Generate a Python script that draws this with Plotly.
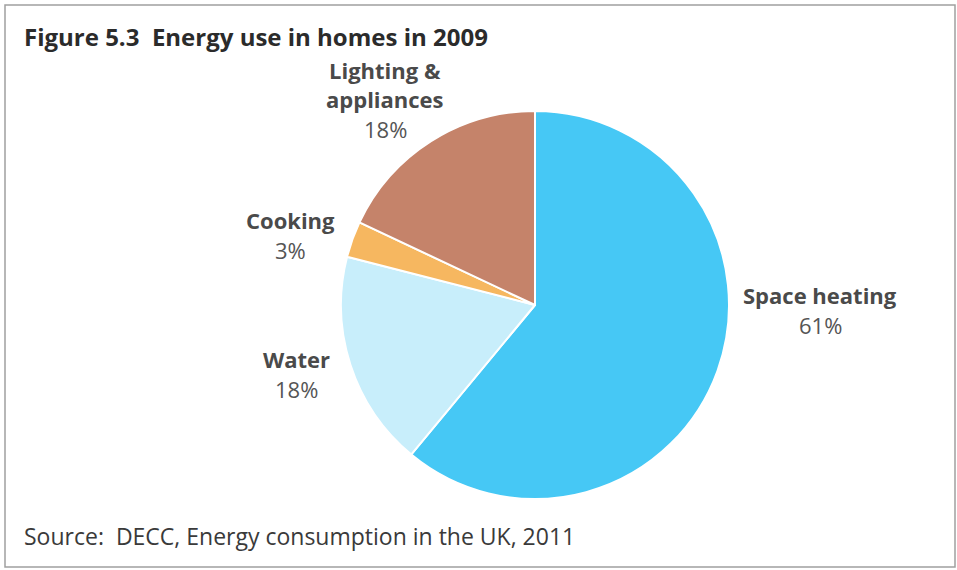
import plotly.graph_objects as go

categories = ["Space heating", "Water", "Cooking", "Lighting &<br>appliances"]
values = [61, 18, 3, 18]
colors = ["#46C8F5", "#C8EEFB", "#F6B760", "#C5836A"]

W, H = 957, 570
cx, cy, r = 535, 305, 194

fig = go.Figure(go.Pie(
    labels=categories,
    values=values,
    sort=False,
    direction="clockwise",
    rotation=0,
    marker=dict(colors=colors, line=dict(color="white", width=2)),
    textinfo="none",
    hoverinfo="label+percent",
    showlegend=False,
    domain=dict(x=[(cx - r) / W, (cx + r) / W], y=[1 - (cy + r) / H, 1 - (cy - r) / H]),
))

# label placement (pixel centres of each text line)
label_pos = {
    "Space heating": [(820, 295), (820, 325)],
    "Water": [(296, 359), (296, 389)],
    "Cooking": [(290, 220), (290, 250)],
    "Lighting &<br>appliances": [(385, 70), (385, 99), (385, 129)],
}

ann = []
for cat, val in zip(categories, values):
    lines = cat.split("<br>")
    pos = label_pos[cat]
    for i, ln in enumerate(lines):
        x, y = pos[i]
        ann.append(dict(x=x / W, y=1 - y / H, xref="paper", yref="paper", text="<b>" + ln + "</b>",
                        showarrow=False, xanchor="center", yanchor="middle",
                        font=dict(family="Open Sans", size=22, color="#4a4a4a")))
    x, y = pos[-1]
    ann.append(dict(x=x / W, y=1 - y / H, xref="paper", yref="paper", text=f"{val}%",
                    showarrow=False, xanchor="center", yanchor="middle",
                    font=dict(family="Open Sans", size=22, color="#555555")))

ann.append(dict(x=22 / W, y=1 - 37 / H, xref="paper", yref="paper",
                text="<b>Figure 5.3  Energy use in homes in 2009</b>", showarrow=False,
                xanchor="left", yanchor="middle", font=dict(family="Open Sans", size=24, color="#2b2b2b")))
ann.append(dict(x=22 / W, y=1 - 536 / H, xref="paper", yref="paper",
                text="Source:  DECC, Energy consumption in the UK, 2011", showarrow=False,
                xanchor="left", yanchor="middle", font=dict(family="Open Sans", size=23, color="#3a3a3a")))

fig.update_layout(
    width=W, height=H,
    margin=dict(l=0, r=0, t=0, b=0),
    paper_bgcolor="white", plot_bgcolor="white",
    annotations=ann,
    shapes=[dict(type="rect", xref="paper", yref="paper",
                 x0=5 / W, x1=955 / W, y0=1 - 567 / H, y1=1 - 5 / H,
                 line=dict(color="#a0a0a0", width=1.5))],
)

fig.write_html("out.html", config={"displayModeBar": False},
               post_script="document.body.style.margin='0';document.body.style.overflow='hidden';")
